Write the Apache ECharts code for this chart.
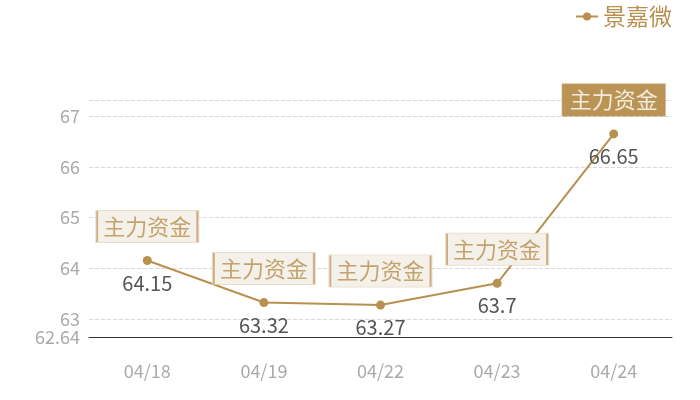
<!DOCTYPE html>
<html>
<head>
<meta charset="utf-8">
<script src="https://cdn.jsdelivr.net/npm/echarts@6/dist/echarts.min.js"></script>
<style>
  html, body { margin: 0; padding: 0; background: #fff; }
  #chart { width: 700px; height: 400px; }
</style>
</head>
<body>
<div id="chart"></div>
<script>
var dates = ['04/18', '04/19', '04/22', '04/23', '04/24'];
var prices = [64.15, 63.32, 63.27, 63.7, 66.65];
var tags = ['主力资金', '主力资金', '主力资金', '主力资金', '主力资金'];
var activeTag = 4;

var gold = '#b8904f';
var cream = '#f4f0ea';
var font = '"Noto Sans CJK SC", "Noto Sans", sans-serif';

var chart = echarts.init(document.getElementById('chart'));

// box edges: dark strips left/right, light border top/bottom
function tagRich(active) {
    var edge = { width: 2, height: 31, backgroundColor: active ? gold : '#c39e66', fontSize: 1 };
    return {
        l: edge,
        r: edge,
        t: {
            color: active ? '#fff' : gold,
            backgroundColor: active ? gold : cream,
            fontSize: 22,
            fontFamily: font,
            height: 31,
            lineHeight: 31,
            padding: [0, 5]
        }
    };
}

var tagData = prices.map(function (v, i) {
    var item = { value: v, name: tags[i] };
    if (i === activeTag) {
        item.label = {
            backgroundColor: gold,
            borderColor: gold,
            rich: tagRich(true)
        };
    }
    return item;
});

chart.setOption({
    textStyle: { fontFamily: font },
    legend: {
        data: ['景嘉微'],
        right: 23,
        top: 0,
        itemWidth: 22,
        itemHeight: 10,
        itemGap: 6,
        textStyle: { color: gold, fontSize: 23, fontFamily: font }
    },
    grid: { left: 89, right: 28, top: 100, bottom: 63 },
    xAxis: {
        type: 'category',
        data: dates,
        boundaryGap: true,
        axisLine: { lineStyle: { color: '#333', width: 1 } },
        axisTick: { show: false },
        axisLabel: { color: '#aaa', fontSize: 18, margin: 25, fontFamily: font }
    },
    yAxis: {
        type: 'value',
        min: function (v) { return +(v.min * 0.99).toFixed(2); },
        max: function (v) { return +(v.max * 1.01).toFixed(2); },
        axisLine: { show: false },
        axisTick: { show: false },
        axisLabel: { color: '#aaa', fontSize: 18, margin: 9, showMaxLabel: false, fontFamily: font },
        splitLine: { lineStyle: { color: '#d8d8d8', type: 'dashed' } }
    },
    series: [
        {
            name: '景嘉微',
            type: 'line',
            data: prices,
            symbol: 'circle',
            symbolSize: 9,
            itemStyle: { color: gold },
            lineStyle: { color: gold, width: 2 },
            label: {
                show: true,
                position: 'bottom',
                distance: 8,
                color: '#555',
                fontSize: 20,
                fontFamily: font
            },
            labelLayout: { hideOverlap: false },
            z: 2
        },
        {
            name: 'tag',
            type: 'scatter',
            data: tagData,
            symbolSize: 9,
            itemStyle: { color: 'transparent' },
            silent: true,
            label: {
                show: true,
                position: 'top',
                distance: 14,
                formatter: function (p) { return '{l| }{t|' + p.name + '}{r| }'; },
                backgroundColor: cream,
                borderColor: '#e4d5bb',
                borderWidth: 1,
                padding: 0,
                rich: tagRich(false)
            },
            labelLayout: { hideOverlap: false },
            z: 5
        }
    ]
});
</script>
</body>
</html>
